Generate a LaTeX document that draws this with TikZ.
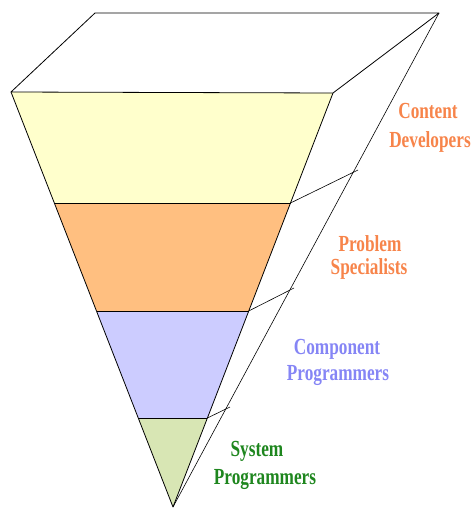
\documentclass[tikz,border=0pt]{standalone}
\usepackage{fontspec}
\newfontfamily\lbl{Liberation Serif}[FakeStretch=0.75]
\definecolor{cyel}{HTML}{FFFFCC}
\definecolor{corg}{HTML}{FFBF80}
\definecolor{cblu}{HTML}{CCCCFF}
\definecolor{cgrn}{HTML}{D8E6B4}
\definecolor{torg}{HTML}{F7844A}
\definecolor{tblu}{HTML}{8585F5}
\definecolor{tgrn}{HTML}{1E861E}
\begin{document}
\begin{tikzpicture}[x=1pt,y=-1pt,
  edge/.style={draw=black,line width=0.8pt,line join=round},
  thin/.style={draw=black,line width=0.6pt},
  lab/.style={font=\lbl\bfseries\fontsize{23}{28}\selectfont,inner sep=0pt,anchor=base}]
\useasboundingbox (0,0) rectangle (475,509);
\coordinate (FL) at (11,92);
\coordinate (FR) at (333,93);
\coordinate (BL) at (95,13);
\coordinate (BR) at (439,13);
\coordinate (AP) at (173,507);
\coordinate (L1) at (54.3,203);
\coordinate (R1) at (290.5,203);
\coordinate (L2) at (96.5,311);
\coordinate (R2) at (248.7,311);
\coordinate (L3) at (138.3,418);
\coordinate (R3) at (207.4,418);
\coordinate (S1) at (358,170);
\coordinate (S2) at (294,288);
\coordinate (S3) at (230,407);
% fills
\fill[cyel] (FL) -- (FR) -- (R1) -- (L1) -- cycle;
\fill[corg] (L1) -- (R1) -- (R2) -- (L2) -- cycle;
\fill[cblu] (L2) -- (R2) -- (R3) -- (L3) -- cycle;
\fill[cgrn] (L3) -- (R3) -- (AP) -- cycle;
% layer lines
\draw[thin] (L1) -- (R1);
\draw[thin] (L2) -- (R2);
\draw[thin] (L3) -- (R3);
% outline
\draw[edge] (FL) -- (BL) -- (BR) -- (FR) -- cycle;
\draw[edge] (FL) -- (AP) -- (FR);
\draw[thin] (BR) -- (AP);
\draw[thin] (R1) -- (S1);
\draw[thin] (R2) -- (S2);
\draw[thin] (R3) -- (S3);
% labels
\node[lab,text=torg] (cd1) at (428,118) {Content};
\node[lab,text=torg] (cd2) at (430,147) {Developers};
\node[lab,text=torg] (ps1) at (370,251) {Problem};
\node[lab,text=torg] (ps2) at (369,274) {Specialists};
\node[lab,text=tblu] (cp1) at (337,354) {Component};
\node[lab,text=tblu] (cp2) at (338,380) {Programmers};
\node[lab,text=tgrn] (sp1) at (257,456) {System};
\node[lab,text=tgrn] (sp2) at (265,484) {Programmers};
\end{tikzpicture}
\end{document}
